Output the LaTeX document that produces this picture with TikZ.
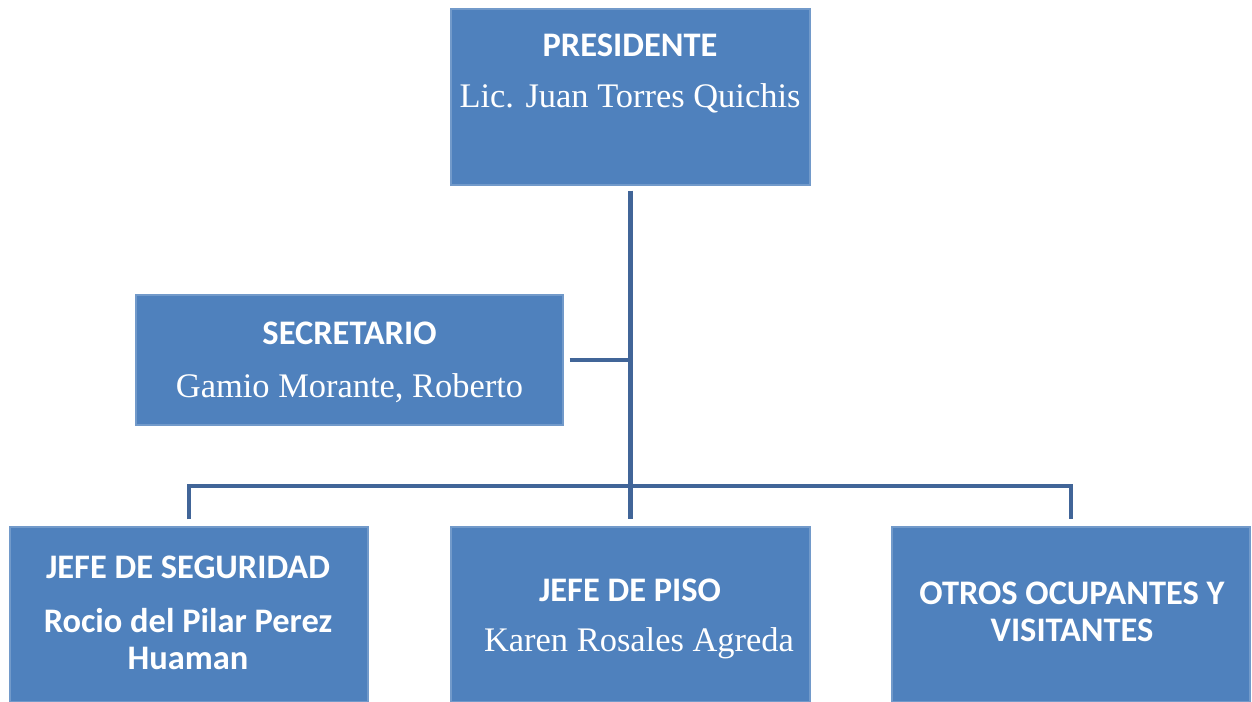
\documentclass[tikz,border=0pt]{standalone}
\usepackage{fontspec}
\setmainfont{Liberation Serif}
\newfontfamily\calib{Carlito}
\definecolor{cajaazul}{RGB}{79,129,189}
\definecolor{lineaazul}{RGB}{65,101,152}
\tikzset{
  caja/.style={shape=rectangle, fill=cajaazul, draw=cajaazul!80!white, line width=0.6pt, inner sep=0},
  titulo/.style={anchor=base, text=white, font=\calib\bfseries\fontsize{19.6}{23}\selectfont},
  nombre/.style={anchor=base, text=white, font=\fontsize{19.6}{23}\selectfont},
  enlace/.style={draw=lineaazul, line width=2.8pt}
}
\begin{document}
\begin{tikzpicture}
	\useasboundingbox (0,0) rectangle (25.04,14.04);
	% cajas
	\node[caja, minimum width=7.18cm, minimum height=3.52cm] (pres) at (12.61, 12.1){};
	\node[caja, minimum width=8.54cm, minimum height=2.6cm] (secr) at (6.99, 6.84){};
	\node[caja, minimum width=7.16cm, minimum height=3.5cm] (jseg) at (3.78, 1.75){};
	\node[caja, minimum width=7.18cm, minimum height=3.5cm] (jpiso) at (12.61, 1.75){};
	\node[caja, minimum width=7.16cm, minimum height=3.5cm] (otros) at (21.42, 1.75){};
	\coordinate (bus) at (12.6, 4.32);
	% lineas
	\draw[enlace, shorten <=0.1cm, shorten >=0.14cm] (pres.south) -- (jpiso.north);
	\draw[enlace, shorten <=0.12cm] (secr.east) -- (secr.east -| bus);
	\draw[enlace, shorten <=0.14cm, shorten >=0.14cm] (jseg.north) |- (bus) -| (otros.north);
	% textos
    \node[titulo] (pres-a) at (12.6, 12.9) {PRESIDENTE};
    \node[nombre] (pres-b) at (12.6, 11.88) {Lic. Juan Torres Quichis};
    \node[titulo] (secr-a) at (6.99, 7.14) {SECRETARIO};
    \node[nombre] (secr-b) at (6.99, 6.08) {Gamio Morante, Roberto};
    \node[titulo] (jseg-a) at (3.76, 2.46) {JEFE DE SEGURIDAD};
    \node[titulo] (jseg-b) at (3.76, 1.38) {Rocio del Pilar Perez};
    \node[titulo] (jseg-c) at (3.76, 0.64) {Huaman};
    \node[titulo] (jpiso-a) at (12.6, 2.0) {JEFE DE PISO};
    \node[nombre] (jpiso-b) at (12.78, 1.0) {Karen Rosales Agreda};
    \node[titulo] (otros-a) at (21.44, 1.94) {OTROS OCUPANTES Y};
    \node[titulo] (otros-b) at (21.44, 1.2) {VISITANTES};
\end{tikzpicture}
\end{document}
